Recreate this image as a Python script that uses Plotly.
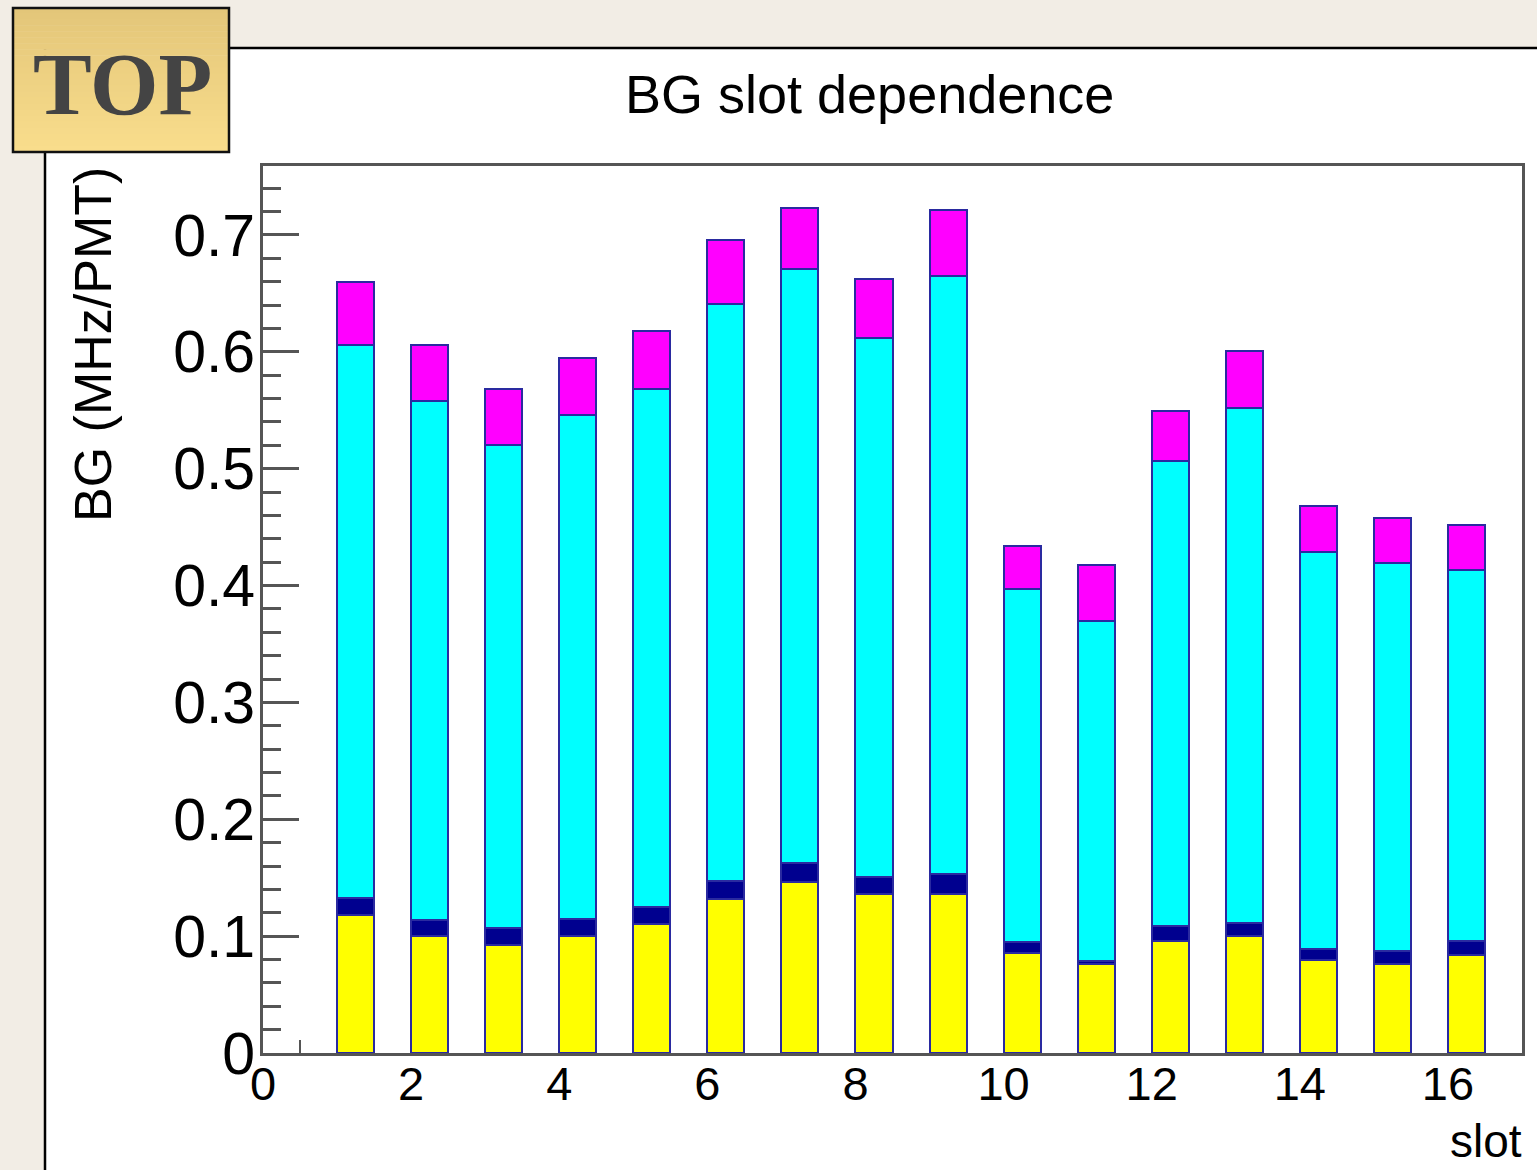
import plotly.graph_objects as go

# ---------------- data ----------------
slots = list(range(1, 17))
yellow = [0.118, 0.100, 0.092, 0.100, 0.110, 0.132, 0.146, 0.136, 0.136, 0.086, 0.076, 0.096, 0.100, 0.080, 0.076, 0.084]
navy = [0.015, 0.014, 0.015, 0.015, 0.015, 0.015, 0.017, 0.015, 0.017, 0.009, 0.003, 0.013, 0.011, 0.009, 0.011, 0.012]
cyan = [0.473, 0.444, 0.413, 0.431, 0.443, 0.494, 0.508, 0.461, 0.512, 0.302, 0.291, 0.398, 0.441, 0.340, 0.332, 0.317]
magenta = [0.054, 0.048, 0.048, 0.049, 0.050, 0.055, 0.052, 0.050, 0.056, 0.037, 0.048, 0.042, 0.049, 0.039, 0.039, 0.039]

title_text = "BG slot dependence"
x_title = "slot"
y_title = "BG (MHz/PMT)"
badge_text = "TOP"

# ---------------- geometry ----------------
FW, FH = 1537, 1170
L, R, T, B = 263, 1522, 166, 1053
PW, PH = R - L, B - T


def px(x):
    return (x - L) / PW


def py(y):
    return (B - y) / PH


FONT = "Liberation Sans, Arial, Helvetica, sans-serif"

fig = go.Figure()
edge = dict(color="#2a2aa0", width=2)
for vals, col in [(yellow, "#ffff00"), (navy, "#00008f"), (cyan, "#00ffff"), (magenta, "#ff00ff")]:
    fig.add_trace(go.Bar(x=slots, y=vals, width=0.5, offset=0,
                         marker=dict(color=col, line=edge), showlegend=False))

shapes = []
# white slide panel
shapes.append(dict(type="rect", xref="paper", yref="paper", layer="below",
                   x0=px(45), x1=px(FW + 5), y0=py(48), y1=py(FH + 5),
                   fillcolor="white", line=dict(color="black", width=2.5)))
# TOP badge gradient
n = 24
top_y, bot_y = 7, 152
c0 = (0xE3, 0xC6, 0x79)
c1 = (0xF9, 0xDD, 0x8C)
for i in range(n):
    t = i / (n - 1)
    c = tuple(round(c0[k] + (c1[k] - c0[k]) * t) for k in range(3))
    ya = top_y + (bot_y - top_y) * i / n
    yb = top_y + (bot_y - top_y) * (i + 1) / n + 0.5
    shapes.append(dict(type="rect", xref="paper", yref="paper", layer="above",
                       x0=px(12), x1=px(230), y0=py(ya), y1=py(yb),
                       fillcolor="rgb(%d,%d,%d)" % c, line=dict(width=0)))
shapes.append(dict(type="rect", xref="paper", yref="paper", layer="above",
                   x0=px(13), x1=px(229), y0=py(8), y1=py(152),
                   fillcolor="rgba(0,0,0,0)", line=dict(color="#111111", width=2.5)))

annotations = [
    dict(text=badge_text, xref="paper", yref="paper", x=px(122), y=py(84),
         xanchor="center", yanchor="middle", showarrow=False,
         font=dict(family="Liberation Serif, Times New Roman, serif", size=88, color="#444444", weight="bold")),
    dict(text=title_text, xref="paper", yref="paper", x=px(869), y=py(94),
         xanchor="center", yanchor="middle", showarrow=False,
         font=dict(family=FONT, size=54, color="black")),
    dict(text=y_title, xref="paper", yref="paper", x=px(93), y=py(345),
         xanchor="center", yanchor="middle", showarrow=False, textangle=-90,
         font=dict(family=FONT, size=52, color="black")),
    dict(text=x_title, xref="paper", yref="paper", x=px(1524), y=py(1141),
         xanchor="right", yanchor="middle", showarrow=False,
         font=dict(family=FONT, size=46, color="black")),
]

fig.update_layout(
    width=FW, height=FH,
    margin=dict(l=L, r=FW - R, t=T, b=FH - B, pad=0),
    paper_bgcolor="#f2ede5",
    plot_bgcolor="rgba(0,0,0,0)",
    barmode="stack",
    bargap=0,
    shapes=shapes,
    annotations=annotations,
    xaxis=dict(range=[0, 17], dtick=2, tick0=0, ticks="inside", ticklen=26, tickwidth=2,
               tickcolor="#555555", showgrid=False, zeroline=False, automargin=False,
               showline=True, linecolor="#555555", linewidth=3, mirror=True,
               layer="below traces",
               minor=dict(dtick=0.5, ticks="inside", ticklen=13, tickwidth=2, tickcolor="#555555", showgrid=False),
               tickfont=dict(family=FONT, size=47, color="black"), ticklabelstandoff=-12),
    yaxis=dict(range=[0, 0.759], dtick=0.1, tick0=0, ticks="inside", ticklen=36, tickwidth=2.5,
               tickcolor="#555555", showgrid=False, zeroline=False, automargin=False,
               showline=True, linecolor="#555555", linewidth=3, mirror=True,
               minor=dict(dtick=0.02, ticks="inside", ticklen=18, tickwidth=2.5, tickcolor="#555555", showgrid=False),
               tickfont=dict(family=FONT, size=59, color="black"), ticklabelstandoff=-7),
)

fig.write_html("out.html")
